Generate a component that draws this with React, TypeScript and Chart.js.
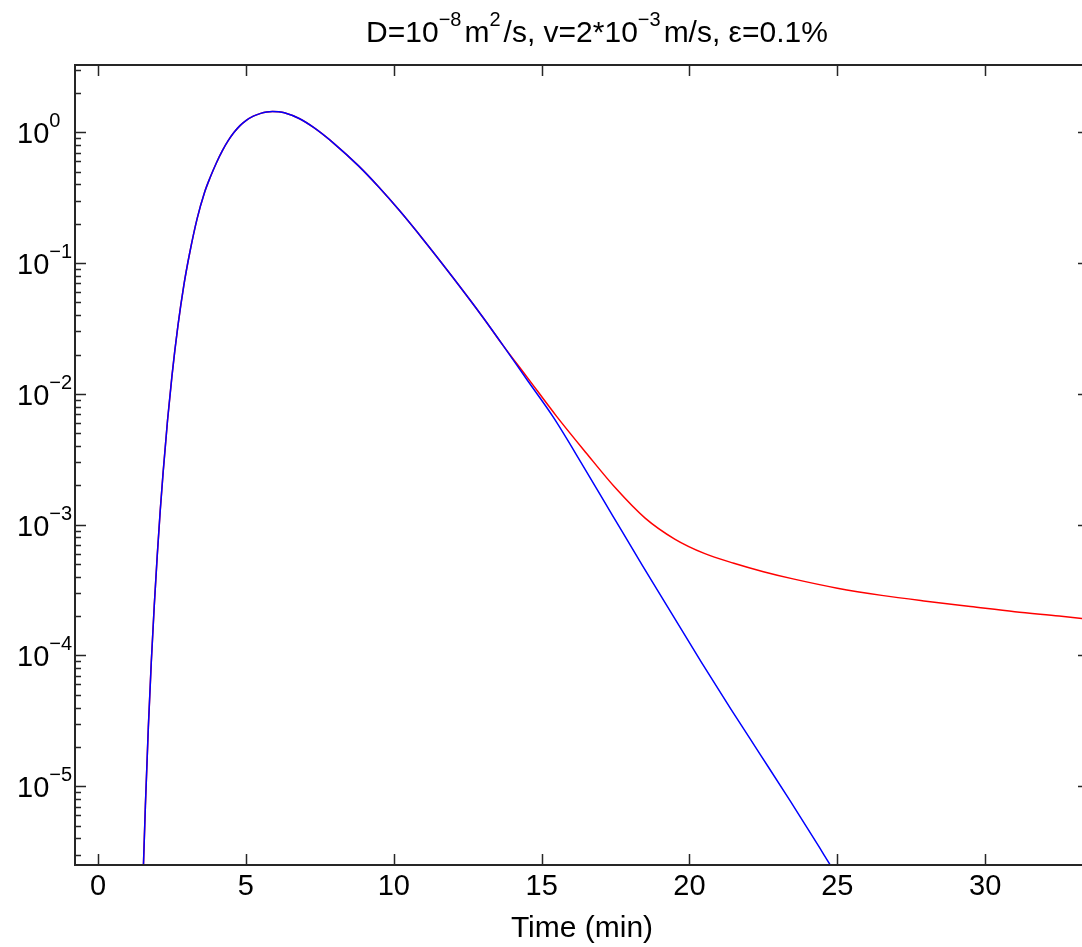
import React, { useEffect, useRef } from 'react';
import { Chart, registerables } from 'chart.js';

Chart.register(...registerables);

const FONT = '"Liberation Sans", Arial, Helvetica, sans-serif';
const AXIS_COLOR = '#262626';

// Shared part of both curves (time in min, value)
const sharedTime = [1.5, 1.6, 1.7, 1.8, 1.9, 2.0, 2.1, 2.2, 2.35, 2.5, 2.7, 2.9, 3.1, 3.35, 3.6, 3.8, 4.0, 4.2, 4.4, 4.6, 4.8, 5.0, 5.25, 5.5, 5.7, 5.9, 6.1, 6.3, 6.8, 7.3, 8.0, 8.8, 9.5, 10.2, 11.0, 12.0, 13.0, 13.7];
const sharedValue = [1.41e-6, 7.08e-6, 2.82e-5, 8.91e-5, 2.4e-4, 5.75e-4, 1.26e-3, 2.51e-3, 6.31e-3, 1.38e-2, 3.31e-2, 6.76e-2, 0.12, 0.219, 0.347, 0.457, 0.583, 0.721, 0.863, 1.0, 1.125, 1.23, 1.33, 1.396, 1.432, 1.445, 1.435, 1.41, 1.274, 1.084, 0.813, 0.556, 0.38, 0.251, 0.151, 0.0776, 0.0389, 0.0234];

// Red curve tail (with ε)
const redTailTime = [14.5, 15.5, 16.5, 17.5, 18.5, 19.5, 20.5, 21.5, 22.5, 23.5, 25.0, 26.5, 28.0, 29.5, 31.0, 32.5, 34.0];
const redTailValue = [0.0135, 6.76e-3, 3.55e-3, 1.905e-3, 1.122e-3, 7.76e-4, 6.03e-4, 5.07e-4, 4.37e-4, 3.85e-4, 3.27e-4, 2.88e-4, 2.6e-4, 2.37e-4, 2.16e-4, 2.0e-4, 1.84e-4];

// Blue curve tail
const blueTailTime = [14.5, 15.4, 16.4, 17.4, 18.4, 19.4, 20.4, 21.4, 22.4, 23.4, 24.4, 24.7, 25.2];
const blueTailValue = [0.01288, 6.61e-3, 2.82e-3, 1.175e-3, 4.9e-4, 2.09e-4, 8.91e-5, 3.89e-5, 1.74e-5, 7.76e-6, 3.39e-6, 2.63e-6, 1.74e-6];

const xMin = -0.78;
const xMax = 33.51;
const xTickStep = 5;
const xTickValues = [0, 5, 10, 15, 20, 25, 30];
const yMin = 2.5e-6;
const yMax = 3.27;
const yTickExponents = [0, -1, -2, -3, -4, -5];
const yMinorMultipliers = [2, 3, 4, 5, 6, 7, 8, 9];

const xAxisTitle = 'Time (min)';
const titleParts: { text: string; sup?: boolean }[] = [
  { text: 'D=10' },
  { text: '\u22128', sup: true },
  { text: 'm' },
  { text: '2', sup: true },
  { text: '/s, v=2*10' },
  { text: '\u22123', sup: true },
  { text: 'm/s, \u03b5=0.1%' },
];

const toPoints = (t: number[], v: number[]) => t.map((x, i) => ({ x, y: v[i] }));

const framePlugin = {
  id: 'matlabFrame',
  afterDraw(chart: any) {
    const { ctx, chartArea: a, scales } = chart;
    const xs = scales.x;
    const ys = scales.y;
    ctx.save();
    ctx.strokeStyle = AXIS_COLOR;
    ctx.lineWidth = 2;
    ctx.beginPath();
    ctx.moveTo(a.left, a.top);
    ctx.lineTo(a.right, a.top);
    ctx.lineTo(a.right, a.bottom);
    ctx.lineTo(a.left, a.bottom);
    ctx.closePath();
    ctx.stroke();

    const major = 11;
    const minor = 6;
    ctx.lineWidth = 1.5;
    ctx.beginPath();
    for (const v of xTickValues) {
      const px = Math.round(xs.getPixelForValue(v)) + 0.5;
      ctx.moveTo(px, a.bottom);
      ctx.lineTo(px, a.bottom - major);
      ctx.moveTo(px, a.top);
      ctx.lineTo(px, a.top + major);
    }
    for (let e = -7; e <= 1; e++) {
      const base = Math.pow(10, e);
      if (base >= yMin && base <= yMax) {
        const py = Math.round(ys.getPixelForValue(base)) + 0.5;
        ctx.moveTo(a.left, py);
        ctx.lineTo(a.left + major, py);
        ctx.moveTo(a.right, py);
        ctx.lineTo(a.right - major, py);
      }
      for (const m of yMinorMultipliers) {
        const v = m * base;
        if (v < yMin || v > yMax) continue;
        const py = Math.round(ys.getPixelForValue(v)) + 0.5;
        ctx.moveTo(a.left, py);
        ctx.lineTo(a.left + minor, py);
        ctx.moveTo(a.right, py);
        ctx.lineTo(a.right - minor, py);
      }
    }
    ctx.stroke();

    // y tick labels 10^n
    ctx.fillStyle = '#000';
    ctx.textAlign = 'left';
    ctx.textBaseline = 'alphabetic';
    for (const e of yTickExponents) {
      const py = ys.getPixelForValue(Math.pow(10, e));
      ctx.font = `29px ${FONT}`;
      ctx.fillText('10', 17, py + 11);
      const w = ctx.measureText('10').width;
      ctx.font = `20px ${FONT}`;
      ctx.fillText(e < 0 ? '\u2212' + Math.abs(e) : String(e), 17 + w, py - 5);
    }

    // title with superscripts
    const mainFont = `30px ${FONT}`;
    const supFont = `20px ${FONT}`;
    const supGap = 3;
    let total = 0;
    for (const p of titleParts) {
      ctx.font = p.sup ? supFont : mainFont;
      total += ctx.measureText(p.text).width + (p.sup ? supGap : 0);
    }
    let x = 597 - total / 2;
    const baseY = 42;
    for (const p of titleParts) {
      ctx.font = p.sup ? supFont : mainFont;
      ctx.fillText(p.text, x, p.sup ? baseY - 16 : baseY);
      x += ctx.measureText(p.text).width + (p.sup ? supGap : 0);
    }
    ctx.restore();
  },
};

export default function App() {
  const ref = useRef<HTMLCanvasElement | null>(null);
  useEffect(() => {
    if (!ref.current) return;
    const chart = new Chart(ref.current, {
      type: 'line',
      data: {
        datasets: [
          {
            label: 'blue',
            data: toPoints(sharedTime.concat(blueTailTime), sharedValue.concat(blueTailValue)),
            borderColor: '#0000ff',
            borderWidth: 1.5,
            pointRadius: 0,
            cubicInterpolationMode: 'monotone',
            fill: false,
          },
          {
            label: 'red',
            data: toPoints(sharedTime.concat(redTailTime), sharedValue.concat(redTailValue)),
            borderColor: '#ff0000',
            borderWidth: 1.5,
            pointRadius: 0,
            cubicInterpolationMode: 'monotone',
            fill: false,
          },
        ],
      },
      options: {
        responsive: false,
        maintainAspectRatio: false,
        devicePixelRatio: 1,
        animation: false,
        events: [],
        layout: { padding: { top: 65, right: 11, left: 0, bottom: 0 } },
        plugins: { legend: { display: false }, tooltip: { enabled: false }, title: { display: false } },
        scales: {
          x: {
            type: 'linear',
            min: xMin,
            max: xMax,
            grid: { display: false, drawTicks: false },
            border: { display: false },
            ticks: {
              stepSize: xTickStep,
              includeBounds: false,
              color: '#000',
              font: { family: FONT, size: 29 },
              padding: 5,
              maxRotation: 0,
            },
            title: {
              display: true,
              text: xAxisTitle,
              color: '#000',
              font: { family: FONT, size: 30 },
              padding: { top: 0, bottom: 0 },
            },
            afterFit: (s: any) => {
              s.height = 82;
            },
          },
          y: {
            type: 'logarithmic',
            min: yMin,
            max: yMax,
            grid: { display: false, drawTicks: false },
            border: { display: false },
            ticks: { display: false },
            afterFit: (s: any) => {
              s.width = 75;
            },
          },
        },
      },
      plugins: [framePlugin],
    } as any);
    return () => chart.destroy();
  }, []);
  return (
    <div style={{ position: 'fixed', left: 0, top: 0, width: 1082, height: 947, overflow: 'hidden', background: '#fff' }}>
      <canvas ref={ref} width={1100} height={947} style={{ display: 'block', width: 1100, height: 947 }} />
    </div>
  );
}
